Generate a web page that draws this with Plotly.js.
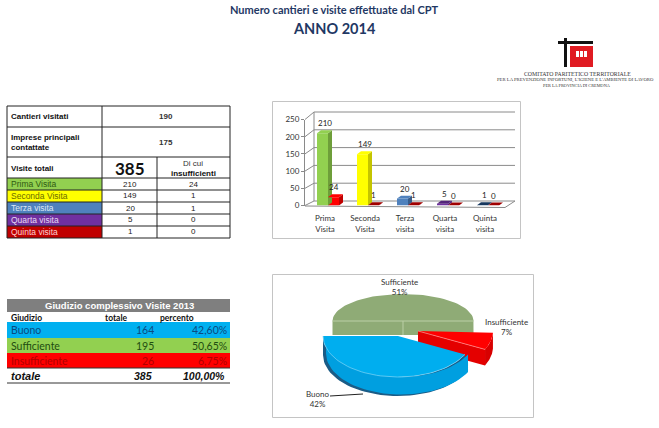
<!DOCTYPE html>
<html><head><meta charset="utf-8">
<script src="https://cdn.plot.ly/plotly-3.0.1.min.js"></script>
<style>html,body{margin:0;padding:0;background:#fff}#c{width:659px;height:428px}</style>
</head><body><div id="c"></div>
<script>
// ---- data
const categories = ["Prima<br>Visita","Seconda<br>Visita","Terza<br>visita","Quarta<br>visita","Quinta<br>visita"];
const visite = [210,149,20,5,1];
const insufficienti = [24,1,1,0,0];
const yTicks = [0,50,100,150,200,250];
const visiteColors = ["#92D050","#FFFF00","#4F81BD","#7030A0","#1F497D"];
const visiteSide = ["#6E9E3A","#C4C400","#385D8A","#53247A","#17375E"];
const insuffColors = ["#FF0000","#C00000","#C00000","#C00000","#C00000"];
const insuffSide = ["#C00000","#A00000","#A00000","#A00000","#A00000"];
const pieNames = ["Sufficiente","Insufficiente","Buono"];
const pieValues = [195,26,164];
const piePercents = ["51%","7%","42%"];
const table1Labels = ["Prima Visita","Seconda Visita","Terza visita","Quarta visita","Quinta visita"];
const table1Fills = ["#92D050","#FFFF00","#4F81BD","#7030A0","#C00000"];
const table1Inks = ["#2f5a10","#6b6b00","#dfe8f5","#e6d8f2","#ffd0d0"];
const table2Labels = ["Buono","Sufficiente","Insufficiente"];
const table2Totals = [164,195,26];
const table2Perc = ["42,60%","50,65%","6,75%"];
const table2Fills = ["#00B0F0","#92D050","#FF0000"];
const table2Inks = ["#0b4a80","#1f4d10","#b00000"];

// ---- page helpers
const W=659,H=428;
const px=x=>x/W, py=y=>1-y/H;
const shapes=[], ann=[];
const rect=(x0,y0,x1,y1,fill,line,lw)=>shapes.push({type:"rect",xref:"paper",yref:"paper",layer:"below",
  x0:px(x0),x1:px(x1),y0:py(y0),y1:py(y1),fillcolor:fill||"rgba(0,0,0,0)",line:{color:line||"rgba(0,0,0,0)",width:line?(lw||1):0}});
const seg=(x0,y0,x1,y1,c,w)=>shapes.push({type:"line",xref:"paper",yref:"paper",layer:"below",
  x0:px(x0),x1:px(x1),y0:py(y0),y1:py(y1),line:{color:c,width:w||1}});
const txt=(x,y,t,o={})=>ann.push({xref:"paper",yref:"paper",x:px(x),y:py(y),text:t,showarrow:false,
  xanchor:o.a||"center",yanchor:"middle",borderpad:0,align:o.a||"center",
  font:{family:o.f||"Liberation Sans",size:o.s||8,color:o.c||"#111"}});

// ---- heading
txt(334,9,"<b>Numero cantieri e visite effettuate dal CPT</b>",{f:"Lato",s:11,c:"#1F3864"});
txt(334,28,"<b>ANNO 2014</b>",{f:"Lato",s:14.5,c:"#1F3864"});

// ---- logo
rect(558,41,593,44,"#111");
rect(564,38,567,67,"#111");
rect(570,46,593,67,"#E01B22");
[576,580,584].forEach(x=>rect(x,51,x+3,57,"#fff"));
txt(577,74,"COMITATO PARITETICO TERRITORIALE",{f:"Liberation Serif",s:5.8,c:"#333"});
txt(575,80,"PER LA PREVENZIONE INFORTUNI, L'IGIENE E L'AMBIENTE DI LAVORO",{f:"Liberation Serif",s:4.7,c:"#333"});
txt(577,86,"PER LA PROVINCIA DI CREMONA",{f:"Liberation Serif",s:4.3,c:"#333"});

// ---- table 1
const rowY=[178,190,202,214,226,238];
table1Labels.forEach((l,i)=>{
  rect(7,rowY[i],102,rowY[i+1],table1Fills[i]);
  txt(10,(rowY[i]+rowY[i+1])/2,l,{a:"left",s:8.5,c:table1Inks[i]});
  txt(130,(rowY[i]+rowY[i+1])/2,String(visite[i]),{s:8,c:"#222"});
  txt(193,(rowY[i]+rowY[i+1])/2,String(insufficienti[i]),{s:8,c:"#222"});
});
rect(7,106,230,238,null,"#222",1);
[127,157,178,190,202,214,226].forEach(y=>seg(7,y,230,y,"#222",1));
seg(102,106,102,238,"#222",1);
seg(157,157,157,238,"#222",1);
txt(10,116.5,"<b>Cantieri visitati</b>",{a:"left",s:8});
txt(166,116.5,"<b>190</b>",{s:8,c:"#333"});
txt(10,142,"<b>Imprese principali<br>contattate</b>",{a:"left",s:8});
txt(166,142,"<b>175</b>",{s:8,c:"#333"});
txt(10,168,"<b>Visite totali</b>",{a:"left",s:8});
txt(130,168,"<b>385</b>",{f:"Lato",s:17,c:"#111"});
txt(193,163,"Di cui",{s:8,c:"#333"});
txt(193,173,"<b>insufficienti</b>",{s:8});

// ---- table 2
rect(7,299,230,312,"#7F7F7F");
txt(119,305.5,"<b>Giudizio complessivo Visite 2013</b>",{s:9.5,c:"#fff"});
txt(10,318,"<b>Giudizio</b>",{a:"left",f:"Lato",s:8.5});
txt(116,318,"<b>totale</b>",{f:"Lato",s:8.5});
txt(177,318,"<b>percento</b>",{f:"Lato",s:8.5});
const row2Y=[322,338,353,368];
table2Labels.forEach((l,i)=>{
  rect(7,row2Y[i],230,row2Y[i+1],table2Fills[i]);
  const m=(row2Y[i]+row2Y[i+1])/2;
  txt(10,m,l,{a:"left",f:"Lato",s:10.5,c:table2Inks[i]});
  txt(155,m,String(table2Totals[i]),{a:"right",f:"Lato",s:10.5,c:table2Inks[i]});
  txt(228,m,table2Perc[i],{a:"right",f:"Lato",s:10.5,c:table2Inks[i]});
});
txt(10,376,"<b><i>totale</i></b>",{a:"left",s:11});
txt(153,376,"<b><i>385</i></b>",{a:"right",s:10.5});
txt(226,376,"<b><i>100,00%</i></b>",{a:"right",s:10.5});
seg(7,368,230,368,"#333",1);
seg(7,383,230,383,"#333",1);

// ---- chart boxes
rect(272.5,101.5,520.5,238.5,null,"#C4C4C4",1);
rect(272.5,274.5,533.5,417.5,null,"#C4C4C4",1);

// ---- bar chart walls (decoration)
const AX0=305,AX1=505,AY0=205.5,AY1=119.5;
const gridC="#8A8A8A";
yTicks.forEach(v=>{
  const yf=AY0+(AY1-AY0)*v/250, yb=201-v*89/250;
  seg(AX0,yf,314,yb,gridC,1);
  seg(314,yb,515,yb,gridC,1);
});
seg(314,112,314,201,gridC,1);
seg(AX0,206,505,207.5,gridC,1);
seg(505,207.5,515,201,gridC,1);

// ---- bar 3D faces, placed in the bar axes from the data values
const barW=.275, offA=-.2, offB=.075, depX=.1, depY=8.7;
function depth(vals,off,top,side){
  vals.forEach((v,i)=>{
    const a=i+off,b=a+barW;
    shapes.push({type:"path",xref:"x",yref:"y",layer:"above",line:{width:0},fillcolor:side[i],
      path:`M${b},0 L${b+depX},${depY} L${b+depX},${v+depY} L${b},${v} Z`});
    shapes.push({type:"path",xref:"x",yref:"y",layer:"above",line:{width:0},fillcolor:v<=5?side[i]:top[i],
      path:`M${a},${v} L${b},${v} L${b+depX},${v+depY} L${a+depX},${v+depY} Z`});
  });
}
depth(visite,offA,visiteColors,visiteSide);
depth(insufficienti,offB,insuffColors,insuffSide);
function valueLabels(vals,off,shift){
  vals.forEach((v,i)=>ann.push({xref:"x",yref:"y",x:i+off+barW/2,y:v,text:String(v),showarrow:false,
    yanchor:"middle",xanchor:"center",yshift:10,xshift:shift,borderpad:0,font:{family:"Lato",size:8,color:"#222"}}));
}
valueLabels(visite,offA,2);
valueLabels(insufficienti,offB,0);

// ---- pie geometry
const total=pieValues.reduce((s,v)=>s+v,0);
let ang=180; const sweep={};
pieNames.forEach((n,i)=>{const s=pieValues[i]/total*360; sweep[n]=[ang,ang-s]; ang-=s;});
const geo={Sufficiente:{cx:403,cy:321,rx:70.5,ry:27,d:14},Insufficiente:{cx:418,cy:331,rx:75,ry:41,d:16},Buono:{cx:398,cy:336,rx:75,ry:41,d:18}};
function arc(g,a0,a1,dy=0,dx=0){
  const out=[],n=48;
  for(let k=0;k<=n;k++){const t=(a0+(a1-a0)*k/n)*Math.PI/180;
    out.push([g.cx+dx+g.rx*Math.cos(t),g.cy+dy-g.ry*Math.sin(t)]);}
  return out;
}
const poly=(pts,fill,line,w)=>{
  const c=pts.concat([pts[0]]);
  return {type:"scatter",mode:"lines",x:c.map(p=>p[0]),y:c.map(p=>p[1]),xaxis:"x2",yaxis:"y2",
    fill:"toself",fillcolor:fill,line:{color:line||fill,width:w===undefined?0:w},hoverinfo:"skip",showlegend:false};
};
const path=(pts,c,w)=>({type:"scatter",mode:"lines",x:pts.map(p=>p[0]),y:pts.map(p=>p[1]),xaxis:"x2",yaxis:"y2",
  line:{color:c,width:w||1},hoverinfo:"skip",showlegend:false});
const pieTraces=[];
{ // Sufficiente
  const g=geo.Sufficiente,[a,b]=sweep.Sufficiente;
  const ar=arc(g,a,b);
  pieTraces.push(poly(ar.concat([[g.cx+g.rx,g.cy+g.d],[g.cx-g.rx,g.cy+g.d]]),"#8FAB76"));
  pieTraces.push(path([[g.cx-g.rx,g.cy],[g.cx+g.rx,g.cy]],"#BBCFA6",1));
  pieTraces.push(path([[g.cx,g.cy],[g.cx,g.cy+g.d]],"#BBCFA6",1));
}
{ // Insufficiente
  const g=geo.Insufficiente,[a,b]=sweep.Insufficiente;
  const ar=arc(g,a,b), ad=arc(g,a,b,g.d);
  pieTraces.push(poly([[g.cx,g.cy],ar[48],ad[48],[g.cx,g.cy+g.d]],"#E40000"));
  pieTraces.push(poly(ar.concat(ad.slice().reverse()),"#D80000"));
  pieTraces.push(poly([[g.cx,g.cy]].concat(ar),"#FF0000"));
  pieTraces.push(path([[g.cx,g.cy],ar[48]],"#FF9090",.7));
}
{ // Buono
  const g=geo.Buono,[a,b]=sweep.Buono;
  const ar=arc(g,a,b);
  pieTraces.push(poly(arc(g,a,b).concat(arc(g,a,b,19).reverse()),"#1B5C86"));
  pieTraces.push(poly(arc(g,a,b,0,3).concat(arc(g,a,b,17.5,3).reverse()),"#009FE0"));
  pieTraces.push(poly([[g.cx,g.cy]].concat(ar),"#00AEEF"));
  pieTraces.push(path(ar,"#7FD6F7",.7));
}
pieTraces.push(path([[330,396],[363,394]],"#222",1));
const pieLabelPos=[[399,287],[506,326.5],[318,399]];
pieNames.forEach((n,i)=>txt(pieLabelPos[i][0],pieLabelPos[i][1],n+"<br>"+piePercents[i],{f:"Lato",s:8,c:"#333"}));

// ---- traces
const xs=visite.map((_,i)=>i);
const traces=[
 {type:"bar",x:xs,y:visite,width:barW,offset:offA,marker:{color:visiteColors,line:{width:0}},name:"Visite",hoverinfo:"y"},
 {type:"bar",x:xs,y:insufficienti,width:barW,offset:offB,marker:{color:insuffColors,line:{width:0}},name:"Insufficienti",hoverinfo:"y"},
 ...pieTraces
];
const layout={
  width:W,height:H,margin:{l:0,r:0,t:0,b:0},paper_bgcolor:"#fff",plot_bgcolor:"rgba(0,0,0,0)",
  barmode:"overlay",showlegend:false,
  xaxis:{domain:[px(AX0),px(AX1)],range:[-.5,4.5],tickvals:xs,ticktext:categories,showgrid:false,zeroline:false,showline:false,
    ticks:"outside",ticklen:5,tickcolor:"rgba(0,0,0,0)",tickfont:{family:"Lato",size:8,color:"#333"},anchor:"y",fixedrange:true},
  yaxis:{domain:[py(AY0),py(AY1)],range:[0,250],tickvals:yTicks,showgrid:false,zeroline:false,showline:true,linecolor:gridC,linewidth:1,
    ticks:"outside",ticklen:3,tickcolor:gridC,tickfont:{family:"Lato",size:8,color:"#333"},anchor:"x",fixedrange:true},
  xaxis2:{domain:[0,1],range:[0,W],visible:false,anchor:"y2",fixedrange:true},
  yaxis2:{domain:[0,1],range:[H,0],visible:false,anchor:"x2",fixedrange:true},
  shapes:shapes,annotations:ann
};
Plotly.newPlot("c",traces,layout,{displayModeBar:false,staticPlot:true});
</script></body></html>
